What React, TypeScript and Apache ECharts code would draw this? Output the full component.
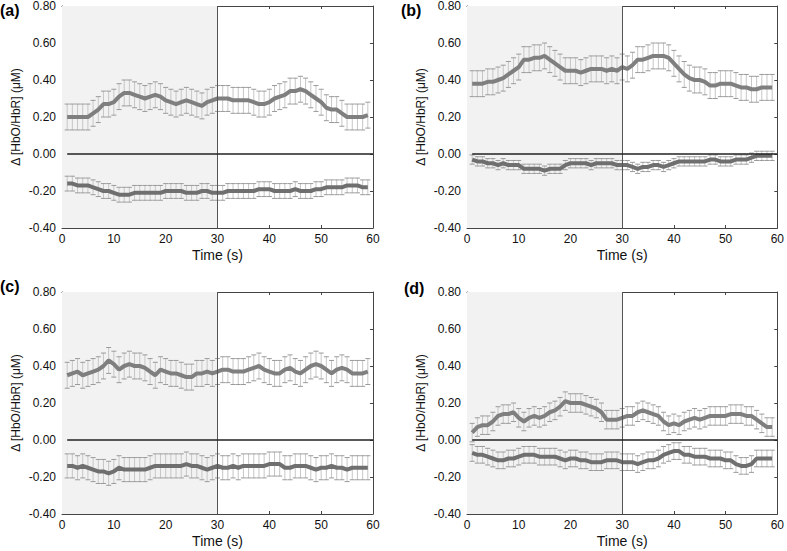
import React, { useEffect, useRef } from "react";
import * as echarts from "echarts";

const times = [1,2,3,4,5,6,7,8,9,10,11,12,13,14,15,16,17,18,19,20,21,22,23,24,25,26,27,28,29,30,31,32,33,34,35,36,37,38,39,40,41,42,43,44,45,46,47,48,49,50,51,52,53,54,55,56,57,58,59];

const panelLabels = ["(a)", "(b)", "(c)", "(d)"];
const yTicks = [-0.4, -0.2, 0, 0.2, 0.4, 0.6, 0.8];
const xTicks = [0, 10, 20, 30, 40, 50, 60];

const aHbO = [0.20,0.20,0.20,0.20,0.20,0.22,0.24,0.27,0.27,0.28,0.31,0.33,0.33,0.32,0.31,0.30,0.31,0.32,0.31,0.29,0.28,0.27,0.28,0.29,0.28,0.27,0.26,0.28,0.29,0.30,0.30,0.30,0.29,0.29,0.29,0.29,0.28,0.27,0.27,0.28,0.30,0.31,0.32,0.34,0.34,0.35,0.34,0.32,0.30,0.28,0.25,0.24,0.24,0.22,0.20,0.20,0.20,0.20,0.21];
const aHbR = [-0.16,-0.16,-0.17,-0.17,-0.17,-0.18,-0.19,-0.20,-0.20,-0.21,-0.22,-0.22,-0.22,-0.21,-0.21,-0.21,-0.21,-0.21,-0.21,-0.20,-0.20,-0.20,-0.20,-0.21,-0.21,-0.21,-0.20,-0.20,-0.21,-0.21,-0.21,-0.20,-0.20,-0.20,-0.20,-0.20,-0.20,-0.19,-0.19,-0.19,-0.20,-0.20,-0.20,-0.20,-0.19,-0.20,-0.20,-0.20,-0.19,-0.19,-0.18,-0.18,-0.18,-0.18,-0.17,-0.17,-0.17,-0.18,-0.18];
const bHbO = [0.38,0.38,0.38,0.39,0.39,0.40,0.41,0.43,0.45,0.47,0.51,0.51,0.52,0.52,0.53,0.51,0.49,0.47,0.45,0.45,0.45,0.44,0.45,0.46,0.46,0.46,0.45,0.46,0.45,0.47,0.46,0.48,0.51,0.51,0.52,0.53,0.53,0.53,0.52,0.49,0.46,0.43,0.41,0.40,0.40,0.39,0.37,0.37,0.38,0.38,0.38,0.37,0.36,0.36,0.35,0.35,0.36,0.36,0.36];
const bHbR = [-0.03,-0.04,-0.04,-0.05,-0.05,-0.06,-0.05,-0.06,-0.06,-0.06,-0.08,-0.08,-0.08,-0.08,-0.09,-0.08,-0.08,-0.08,-0.06,-0.05,-0.05,-0.05,-0.05,-0.06,-0.05,-0.05,-0.05,-0.05,-0.06,-0.06,-0.06,-0.07,-0.08,-0.07,-0.07,-0.06,-0.06,-0.07,-0.06,-0.05,-0.04,-0.04,-0.04,-0.04,-0.04,-0.04,-0.03,-0.03,-0.04,-0.04,-0.04,-0.03,-0.03,-0.03,-0.02,-0.01,-0.01,-0.01,-0.01];
const cHbO = [0.35,0.36,0.37,0.35,0.36,0.37,0.38,0.40,0.43,0.41,0.38,0.40,0.41,0.40,0.40,0.39,0.37,0.35,0.38,0.37,0.36,0.36,0.35,0.34,0.34,0.36,0.36,0.37,0.36,0.37,0.38,0.38,0.37,0.37,0.37,0.38,0.39,0.40,0.38,0.37,0.36,0.36,0.38,0.39,0.37,0.36,0.38,0.40,0.41,0.40,0.38,0.36,0.38,0.39,0.38,0.36,0.36,0.36,0.37];
const cHbR = [-0.14,-0.14,-0.15,-0.14,-0.15,-0.16,-0.17,-0.17,-0.18,-0.17,-0.15,-0.16,-0.16,-0.16,-0.16,-0.16,-0.15,-0.14,-0.14,-0.14,-0.14,-0.14,-0.14,-0.13,-0.14,-0.14,-0.15,-0.16,-0.15,-0.14,-0.15,-0.15,-0.14,-0.15,-0.14,-0.14,-0.14,-0.14,-0.14,-0.13,-0.13,-0.13,-0.15,-0.15,-0.14,-0.14,-0.14,-0.15,-0.16,-0.15,-0.15,-0.14,-0.15,-0.15,-0.16,-0.15,-0.15,-0.15,-0.15];
const dHbO = [0.04,0.07,0.08,0.08,0.10,0.13,0.14,0.14,0.15,0.12,0.10,0.12,0.13,0.12,0.13,0.15,0.16,0.18,0.21,0.20,0.20,0.20,0.19,0.18,0.17,0.15,0.11,0.11,0.11,0.12,0.13,0.13,0.15,0.16,0.15,0.14,0.13,0.10,0.08,0.09,0.08,0.10,0.11,0.12,0.11,0.12,0.13,0.13,0.13,0.13,0.14,0.14,0.14,0.13,0.13,0.11,0.09,0.07,0.07];
const dHbR = [-0.07,-0.08,-0.08,-0.09,-0.10,-0.11,-0.11,-0.10,-0.10,-0.09,-0.08,-0.08,-0.08,-0.09,-0.09,-0.09,-0.09,-0.10,-0.11,-0.10,-0.10,-0.11,-0.11,-0.12,-0.12,-0.12,-0.11,-0.11,-0.11,-0.12,-0.12,-0.12,-0.13,-0.12,-0.11,-0.11,-0.10,-0.08,-0.07,-0.06,-0.06,-0.08,-0.08,-0.09,-0.09,-0.09,-0.10,-0.10,-0.10,-0.11,-0.11,-0.13,-0.14,-0.14,-0.13,-0.10,-0.10,-0.10,-0.10];

// error half-widths per panel [HbO, HbR]
const hboErrors = [0.07, 0.07, 0.07, 0.05];
const hbrErrors = [0.04, 0.025, 0.065, 0.045];

const hboSeries = [aHbO, bHbO, cHbO, dHbO];
const hbrSeries = [aHbR, bHbR, cHbR, dHbR];

const grids = [
  { left: 62, top: 5, width: 311, height: 223 },
  { left: 467, top: 5, width: 311, height: 223 },
  { left: 62, top: 292, width: 311, height: 222 },
  { left: 467, top: 292, width: 311, height: 222 },
];
const labelPos = [
  { x: 0, y: 2 },
  { x: 401, y: 2 },
  { x: 0, y: 278 },
  { x: 404, y: 280 },
];

const FONT = "Liberation Sans, Arial, sans-serif";

export default function App() {
  const ref = useRef<HTMLDivElement>(null);
  useEffect(() => {
    if (!ref.current) return;
    const chart = echarts.init(ref.current, null, { renderer: "svg" });

    const xAxis: any[] = [];
    const yAxis: any[] = [];
    const series: any[] = [];

    const errRender = (capColor: string, barColor: string) => (params: any, api: any) => {
      const x = api.value(0);
      const lo = api.coord([x, api.value(1)]);
      const hi = api.coord([x, api.value(2)]);
      const hw = 2.5;
      return {
        type: "group",
        children: [
          { type: "line", shape: { x1: lo[0], y1: lo[1], x2: hi[0], y2: hi[1] }, style: { stroke: barColor, lineWidth: 1 } },
          { type: "line", shape: { x1: lo[0] - hw, y1: lo[1], x2: lo[0] + hw, y2: lo[1] }, style: { stroke: capColor, lineWidth: 1 } },
          { type: "line", shape: { x1: hi[0] - hw, y1: hi[1], x2: hi[0] + hw, y2: hi[1] }, style: { stroke: capColor, lineWidth: 1 } },
        ],
      };
    };

    grids.forEach((g, i) => {
      xAxis.push({
        type: "value", gridIndex: i, min: xTicks[0], max: xTicks[xTicks.length - 1], interval: 10,
        axisLine: { show: true, lineStyle: { color: "#444", width: 1 } },
        axisTick: { show: true, inside: true, length: 3, lineStyle: { color: "#444" } },
        axisLabel: { color: "#111", fontSize: 12, fontFamily: FONT, margin: 5 },
        splitLine: { show: false },
        name: "Time (s)", nameLocation: "middle", nameGap: 20,
        nameTextStyle: { color: "#111", fontSize: 14, fontFamily: FONT, verticalAlign: "top" },
      });
      yAxis.push({
        type: "value", gridIndex: i, min: yTicks[0], max: yTicks[yTicks.length - 1], interval: 0.2,
        axisLine: { show: true, lineStyle: { color: "#444", width: 1 } },
        axisTick: { show: true, inside: true, length: 3, lineStyle: { color: "#444" } },
        axisLabel: { color: "#111", fontSize: 12, fontFamily: FONT, margin: 6, formatter: (v: number) => v.toFixed(2) },
        splitLine: { show: false },
        name: "Δ [HbO/HbR] (μM)", nameLocation: "middle", nameGap: 40, nameRotate: 90,
        nameTextStyle: { color: "#111", fontSize: 12, fontFamily: FONT },
      });
    });
    grids.forEach((g, i) => {
      xAxis.push({
        type: "value", gridIndex: i, position: "top", min: 0, max: 60, interval: 10,
        axisLine: { show: true, onZero: false, lineStyle: { color: "#444" } },
        axisTick: { show: true, inside: true, length: 3, lineStyle: { color: "#444" } },
        axisLabel: { show: false }, splitLine: { show: false },
      });
      yAxis.push({
        type: "value", gridIndex: i, position: "right", min: -0.4, max: 0.8, interval: 0.2,
        axisLine: { show: true, onZero: false, lineStyle: { color: "#444" } },
        axisTick: { show: true, inside: true, length: 3, lineStyle: { color: "#444" } },
        axisLabel: { show: false }, splitLine: { show: false },
      });
    });
    xAxis.slice(0, 4).forEach((a) => (a.axisLine.onZero = false));

    grids.forEach((g, i) => {
      const hbo = hboSeries[i];
      const hbr = hbrSeries[i];
      const eo = hboErrors[i];
      const er = hbrErrors[i];
      // background / reference lines
      series.push({
        type: "line", xAxisIndex: i, yAxisIndex: i, data: [], silent: true, z: 0,
        markArea: { silent: true, itemStyle: { color: "#f2f2f2" }, data: [[{ xAxis: 0 }, { xAxis: 30 }]] },
        markLine: {
          silent: true, symbol: "none", label: { show: false },
          data: [
            { xAxis: 30, lineStyle: { color: "#555", width: 1, type: "solid" } },
            [{ coord: [1, 0], lineStyle: { color: "#222", width: 1.5, type: "solid" } }, { coord: [60, 0] }],
          ],
        },
      });
      series.push({
        type: "custom", xAxisIndex: i, yAxisIndex: i, z: 2, silent: true,
        renderItem: errRender("#9a9a9a", "#c6c6c6"),
        data: times.map((t, k) => [t, hbo[k] - eo, hbo[k] + eo]),
      });
      series.push({
        type: "custom", xAxisIndex: i, yAxisIndex: i, z: 2, silent: true,
        renderItem: errRender("#9a9a9a", "#c6c6c6"),
        data: times.map((t, k) => [t, hbr[k] - er, hbr[k] + er]),
      });
      series.push({
        type: "line", xAxisIndex: i, yAxisIndex: i, z: 3, showSymbol: false, silent: true,
        lineStyle: { color: "#7f7f7f", width: 4 },
        data: times.map((t, k) => [t, hbo[k]]),
      });
      series.push({
        type: "line", xAxisIndex: i, yAxisIndex: i, z: 3, showSymbol: false, silent: true,
        lineStyle: { color: "#6f6f6f", width: 4 },
        data: times.map((t, k) => [t, hbr[k]]),
      });
    });

    chart.setOption({
      animation: false,
      backgroundColor: "#ffffff",
      grid: grids.map((g) => ({ ...g, containLabel: false })),
      xAxis,
      yAxis,
      series,
      graphic: panelLabels.map((t, i) => ({
        type: "text", left: labelPos[i].x, top: labelPos[i].y,
        style: { text: t, font: `bold 16px ${FONT}`, fill: "#000" },
      })),
    });
    return () => chart.dispose();
  }, []);
  return <div ref={ref} style={{ position: "fixed", left: 0, top: 0, width: 787, height: 551 }} />;
}
